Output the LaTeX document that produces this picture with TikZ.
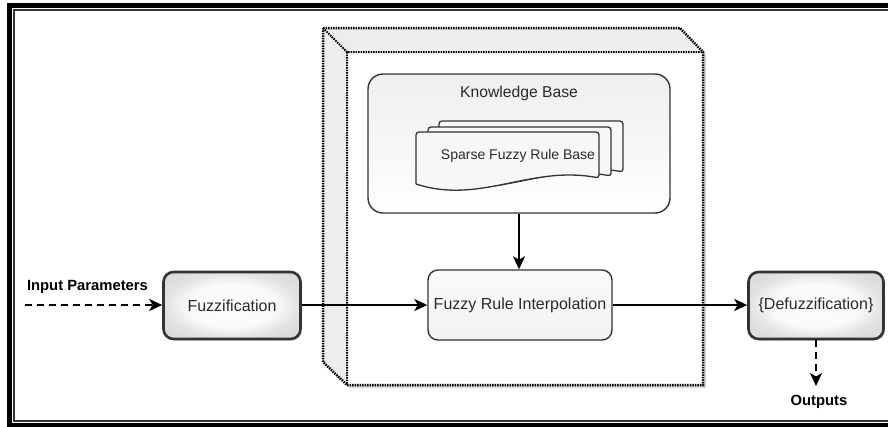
\documentclass[tikz,border=0pt]{standalone}
\usepackage{fontspec}
\setmainfont{Liberation Sans}
\usetikzlibrary{arrows.meta,shadows}
\definecolor{txt}{HTML}{2A2A2A}
\definecolor{edge}{HTML}{333333}
\pgfdeclareradialshading{glow}{\pgfpoint{0bp}{0bp}}{color(0bp)=(gray!3); color(16bp)=(gray!4); color(25bp)=(gray!24); color(36bp)=(gray!32); color(50bp)=(gray!32)}
\tikzset{
 box/.style={draw=edge, rounded corners=10pt, inner sep=0pt, text=txt, font=\fontsize{16}{18}\selectfont},
 heavybox/.style={box, line width=2.6pt, shading=glow,
   drop shadow={opacity=.35, shadow xshift=1.5pt, shadow yshift=-1.5pt}},
 lightbox/.style={box, line width=1.4pt, top color=gray!4, bottom color=gray!10},
 kbbox/.style={draw=edge, line width=1.4pt, rounded corners=15pt, top color=gray!13, bottom color=white},
 doc/.style={draw=edge, line width=1.3pt, fill=gray!6, rounded corners=3pt},
 cubeline/.style={line width=2.5pt, dash pattern=on 1.5pt off 1pt, black},
 conn/.style={line width=1.8pt, -{Stealth[length=13pt,width=12pt,inset=3.5pt]}},
 dconn/.style={conn, line width=2.4pt, dash pattern=on 7pt off 5pt},
 lbl/.style={font=\bfseries\fontsize{14.8}{16}\selectfont, inner sep=0pt},
}
\begin{document}
\begin{tikzpicture}[x=1pt,y=-1pt]
\useasboundingbox (0,0) rectangle (888,426);
\begin{scope}
\clip (0,0) rectangle (888,426);
% outer frame
\draw[line width=5.3pt] (9.3,5.3) rectangle (905,425.7);
\draw[line width=1.5pt, edge] (13.9,9.9) rectangle (905,421.2);
% cube container
\fill[white, drop shadow={opacity=.3, shadow xshift=3pt, shadow yshift=-3pt}]
  (323,28) -- (680,28) -- (703,52) -- (703,385) -- (347,385) -- (323,362) -- cycle;
\fill[gray!14] (323,28) -- (680,28) -- (703,52) -- (347,52) -- cycle;
\fill[gray!14] (323,28) -- (347,52) -- (347,385) -- (323,362) -- cycle;
\draw[cubeline] (323,28) -- (680,28) -- (703,52) -- (703,385) -- (347,385) -- (323,362) -- cycle;
\draw[cubeline, line width=2pt] (323,28) -- (347,52) -- (703,52) (347,52) -- (347,385);
% knowledge base
\node[kbbox, minimum width=302pt, minimum height=139pt] (kb) at (519,143.5) {};
\node[font=\fontsize{15.7}{18}\selectfont, text=txt] (kbt) at (519,93) {Knowledge Base};
% document stack
\draw[doc] (439,178) -- (439,121) -- (623,121) -- (623,172) .. controls (554,159) and (504,199) .. (439,178);
\draw[doc] (428,181) -- (428,127) -- (611,127) -- (611,176) .. controls (542,163) and (492,203) .. (428,181);
\draw[doc] (416,184) -- (416,132) -- (599,132) -- (599,178) .. controls (530,165) and (480,205) .. (416,184);
\node[font=\fontsize{14}{16}\selectfont, text=txt] (srb) at (518,156) {Sparse Fuzzy Rule Base};
% process boxes
\node[lightbox, minimum width=184pt, minimum height=70pt] (fri) at (520,305) {Fuzzy Rule Interpolation};
\node[heavybox, minimum width=137pt, minimum height=67pt] (fuz) at (232,305.5) {Fuzzification};
\node[heavybox, minimum width=135pt, minimum height=67pt] (defuz) at (816,305.5) {\{Defuzzification\}};
% connectors
\coordinate (inp) at (25,305);
\coordinate (outp) at (816,386);
\draw[dconn] (inp) -- (inp -| fuz.west);
\draw[conn] (fuz.east |- fri.west) -- (fri.west);
\draw[conn] (fri.east) -- (fri.east -| defuz.west);
\draw[conn] (kb.south) -- (kb.south |- fri.north);
\draw[dconn] (defuz.south) -- (outp);
% labels
\node[lbl] (inl) at (87.5,287) {Input Parameters};
\node[lbl] (outl) at (819,402) {Outputs};
\end{scope}
\end{tikzpicture}
\end{document}
